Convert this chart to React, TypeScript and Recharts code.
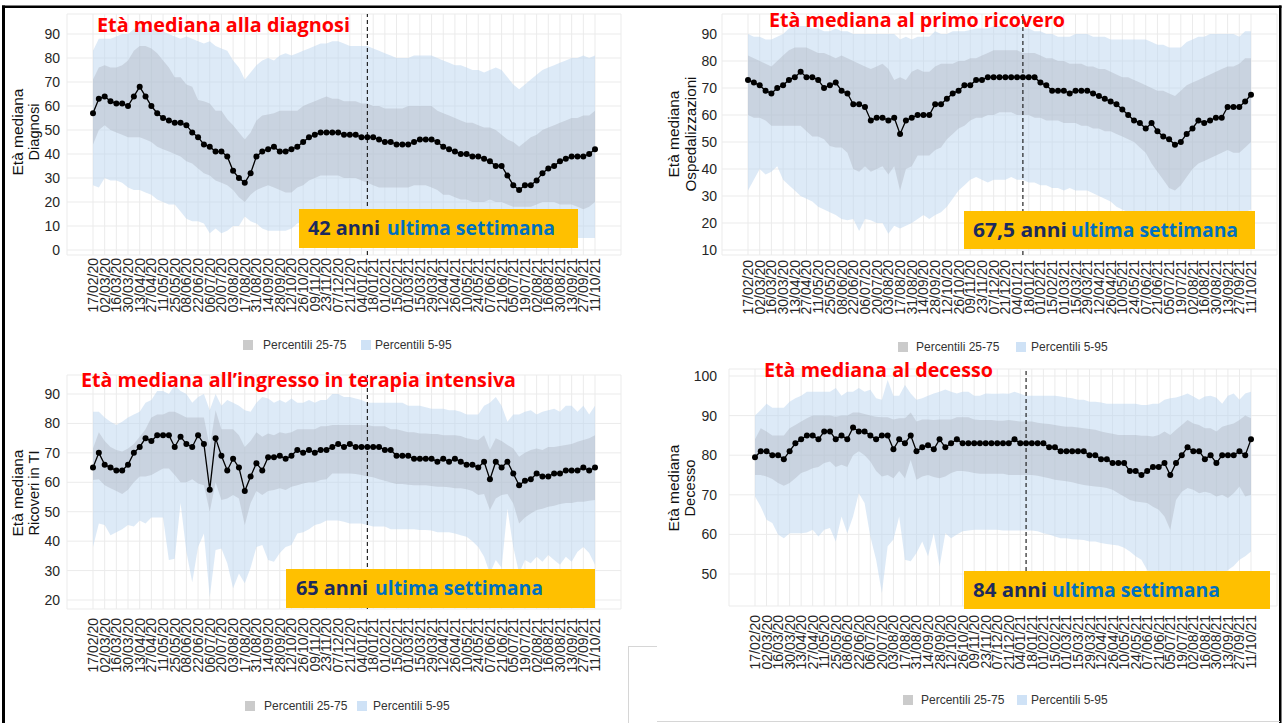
import React from 'react';
import { ComposedChart, Area, Line, XAxis, YAxis, CartesianGrid, ReferenceLine } from 'recharts';

// ---------- categories ----------
const DATES = [
  '17/02/20','24/02/20','02/03/20','09/03/20','16/03/20','23/03/20','30/03/20','06/04/20','13/04/20','20/04/20',
  '27/04/20','04/05/20','11/05/20','18/05/20','25/05/20','01/06/20','08/06/20','15/06/20','22/06/20','29/06/20',
  '06/07/20','13/07/20','20/07/20','27/07/20','03/08/20','10/08/20','17/08/20','24/08/20','31/08/20','07/09/20',
  '14/09/20','21/09/20','28/09/20','05/10/20','12/10/20','19/10/20','26/10/20','02/11/20','09/11/20','16/11/20',
  '23/11/20','30/11/20','07/12/20','14/12/20','21/12/20','28/12/20','04/01/21','11/01/21','18/01/21','25/01/21',
  '01/02/21','08/02/21','15/02/21','22/02/21','01/03/21','08/03/21','15/03/21','22/03/21','29/03/21','05/04/21',
  '12/04/21','19/04/21','26/04/21','03/05/21','10/05/21','17/05/21','24/05/21','31/05/21','07/06/21','14/06/21',
  '21/06/21','28/06/21','05/07/21','12/07/21','19/07/21','26/07/21','02/08/21','09/08/21','16/08/21','23/08/21',
  '30/08/21','06/09/21','13/09/21','20/09/21','27/09/21','04/10/21','11/10/21'
];
const TICK_IDX = [0,2,4,6,8,10,12,14,16,18,20,22,24,26,28,30,32,34,36,38,40,42,44,46,48,50,52,54,56,58,60,62,64,66,68,70,72,74,76,78,80,82,84,86];
const MARK_IDX = 47;

// ---------- Diagnosi ----------
const diagMed = [57,63,64,62,61,61,60,64,68,64, 60,57,55,54,53,53,52,49,47,44, 43,41,41,39,33,30,28,32,39,41,
  42,43,41,41,42,43,45,47,48,49, 49,49,49,48,48,48,47,47,47,46, 45,45,44,44,44,45,46,46,46,45,
  43,42,41,40,40,39,39,38,37,35, 35,31,27,25,27,27,29,32,34,35, 37,38,39,39,39,40,42];
const diagP95 = [83,88,88,88,89,90,90,92,93,92, 92,92,91,90,89,88,89,88,87,86, 87,85,84,83,79,76,71,74,77,79,
  80,79,81,82,81,82,83,84,85,86, 86,87,87,86,85,85,85,85,84,83, 82,81,80,80,80,81,81,81,81,80,
  79,78,77,77,76,75,75,74,75,76, 75,72,69,67,69,71,73,75,76,77, 78,79,80,80,81,80,81];
const diagP75 = [71,76,77,76,76,77,79,83,85,85, 84,82,79,76,72,72,69,68,62.5,62, 61,58,58,54.5,52,49,46,49,54,56,
  56.5,57,58,58,58,58,60,61,62,63, 64,63,63,62,62,62,61,61,60,60, 59,59,59,59,60,60,60,60,60,58,
  57,56,55,54,53,53,52,51,51,50, 48,46,45,43,45,47,48,50,51,52, 53,54,55,55,56,56,58];
const diagP25 = [44,50,52,50,49,48,47,47,47,46, 45,43,42,41,40,39,37,36,34,32, 31,29,28,27,25,22,20,23,25,26,
  27,26,25,24,24,26,27,29,30,31, 31,31,31,30,30,30,29,28,27,26, 26,26,26,26,26,27,27,27,26,25,
  23,23,22,21,21,20,20,20,21,20, 20,19,18,18,18,18,19,20,20,20, 19,19,19,18,17,18,20];
const diagP5 = [27,26,30,29,29,28,26,25,25,24, 23,21,20,19,19,16,13,12,12,11, 7,9,7,8,10,10,14,12,11,9,
  8,8,8,8,9,11,12,14,14,15, 15,15,14,14,13,13,12,12,11,11, 11,11,12,12,12,11,11,10,10,9,
  9,8,8,8,7,7,7,6,6,5, 4,3,3,3,4,5,5,6,6,6, 6,5,5,5,5,5,5];

// ---------- Ospedalizzazioni ----------
const hospMed = [73,72,71,69,68,70,71,73,74,76, 74,74,73,70,71,72,69,68,64,64, 63,58,59,59,58,59,53,58,59,60,
  60,60,64,64,66,68,69,71,71,73, 73,74,74,74,74,74,74,74,74,74, 72,71,69,69,69,68,69,69,69,68,
  67,66,65,64,62,60,58,57,55,57, 54,52,51,49,50,53,55,58,57,58, 59,59,63,63,63,65,67.5];
const hospP95 = [90,89,89,88,88,89,90,92,93,93, 93,92,92,91,91,92,91,91,90,90, 90,90,90,90,90,90,88,89,88,89,
  89,89,91,90,90,91,91,91,91.5,92, 92,92,93,93,93,93,93,92,92,91, 91,90,90,89,89,89,90,90,90,89,
  89,89,88,88,88,88,88,88,88,87, 86,86,85,85,85,87,88,89,89,90, 90,90,90,90,89,91,91];
const hospP75 = [82,81,80,79,78,80,82,84,85,85, 85,84,83,83,82,81,82,81,80,79, 78,77,78,79,77,73,74,73,76,77,
  76,76,78,79,79,79,80,80,81,81, 82,83,84,84,84,84,84,83,83,83, 82,81,81,80,80,79,79,79,78,78,
  77,77,76,75,74,74,73,72,71,70, 69,69,68,67,69,71,72,73,74,75, 76,77,78,78,79,81,81];
const hospP25 = [60,59,59,58,56,56,56,56,56,56, 54,52,52,51,48.5,48,48,46,40,39, 41,39,40,41,38,41,32,40,41,45,
  45,45,47,48,51,53,55,56,58,59, 59,60,60,61,61,61,60,60,60,59, 59,58,58,58,57,57,57,56,56,55,
  55,54,54,53,52,51,50,48,46,42, 39,36,33,32,34,37,40,42,43,44, 45,46,47,46,46,48,50];
const hospP5 = [32,36,40,38,39,41,36,34,32,30, 29,28,26,25,24,23,21.5,21,21.5,17, 21.5,21,20,20,16,19,18,19,20,21.5,
  23,21.5,23,24,26,29,32,34,36,37, 36,35,36,36,36,37,36,36,35,35, 34,34,33,33,32,33,32,32,32,31,
  30,29,28,26,25,24,23,22,20,18, 16,14,13,12,13,15,17,19,20,21, 21,22,22,23,23,24,25];

// ---------- Ricoveri in TI ----------
const icuMed = [65,70,66,65,64,64,66,70,72,75, 74,76,76,76,72,75.5,73,72,76,73, 57.5,75,69,64,68,65,57,62,66.5,64,
  68.5,68.5,69,68,69,71,70,71,70,71, 71,72,73,72,73,72,72,72,72,72, 71,71,69,69,69,68,68,68,68,67,
  68,67,68,67,66,66,65,67,61,67, 65,67,63,59,60.5,61,63,62,62,63, 63,64,64,64,65,64,65];
const icuP95 = [84,84,82,80.6,79.5,80.6,82,83,84,87, 88,91,91,90,93,91,90,87,89,90, 84.5,90,86,88,87,86,84.5,84,87,89,
  88.5,87,88,87,88.5,87,87,88,87,88, 88,90,90,89,89,88.5,88,87,87,87, 87,87,87,87,86,86,86,85.5,85,85,
  85,84.5,84.5,84,83,83,83,86,87,89, 86,80.6,83,83,84,84.5,83,84,84.5,85, 84,86,86,84,86,83,86];
const icuP75 = [71.5,77,74,72,71,70.5,71.5,73,75.5,78, 82,83,83,84,84,83,82,82,82,82, 72,84.5,78,78,78,76,72,74,77,75.5,
  76.6,76,77,76.6,77,78,78,78,78,79, 79,79.5,79.5,79.5,79.5,79.5,79.5,79.5,79,79, 79,78,78,77.5,77,77,76.6,76.6,76.4,76.4,
  76,76,76,75.7,75,74.6,74.4,76,71,75, 74,72.7,71.5,68.7,70,71,71.5,71,72,72, 72.3,72.7,73,73.8,74.4,75,76];
const icuP25 = [60.8,61,59,58,57,56,57.5,60,62,62, 62.5,63.6,64.7,64.7,62.5,60,60,61,59.6,59, 50,60,54,54.5,55.7,54.5,45.5,53,57,55.7,
  57,57.4,58,57.4,58.5,59,59.6,60,60,60.8, 61,63,63,63,63,62.8,62.5,62,61.7,61, 60.5,59.9,59.4,59.4,59.2,59,59,59,58.7,58.5,
  58.5,58.3,58,58,57.6,57,55.7,56,50.6,54.5, 55.7,56,52.8,46,48,49.4,50.6,51,51.7,52, 52.6,53,53,53.4,53.4,53.7,54];
const icuP5 = [38,46,45.5,42,43,44,45.5,45,47,46, 48,48,48,33.6,34,53,36.4,26,38,42.6, 21,37,37.5,32.5,24,29,25.7,31,38,38.7,
  33.6,33,36,38,38.7,42.6,43,44,45.5,46, 47,47,47,46.6,46,46,46,45.5,45,45, 45,44,44,44,44,44,43.8,43.8,43.6,43,
  43,43,42.6,42,41.5,40,38,34.7,29,33.6, 31,51,38,29,33.6,32.5,34.7,33,35.3,33.6, 32,34.7,33,36.4,38,36,32];

// ---------- Decesso ----------
const deathMed = [79.5,81,81,80,80,79,81,83,84,85, 85,84,86,86,84,85,84,87,86,86, 85,84,85,85,81.5,84,83,85,81,82,
  82.5,81.5,84,82,83,84,83,83,83,83, 83,83,83,83,83,84,83,83,83,83, 83,82,82,81,81,81,81,81,80,80,
  79,79,78,78,78,76,76,75,76,77, 77,78,75,78,80,82,81,81,79,80, 78,80,80,80,81,80,84];
const deathP95 = [90,91.4,93,92,92,92,93.5,94.4,95,96, 96,96,96,96,97,95,96,96,97,96, 96.5,94.4,94,99,95,95,97.7,95.6,94,94.4,
  95,95.6,96,96.6,96,95.6,96,96,95,95, 95.6,95.5,95.5,95.6,95.5,96,95.5,95,95,95, 95,95,95,94.8,94.6,94.4,94,94,93.5,93.5,
  93.3,93,93,93,93,93,93,92.7,92.7,93, 93,94,94.4,94.6,95,95.6,94.8,94,94.8,95, 94.5,93,95,95.6,94,95.6,96];
const deathP75 = [84,86.8,86,85,85,85,86.8,87.6,88.5,89.3, 90,90,90,90,89.7,90,90,90.8,90.8,90.4, 90,89.7,89.6,89.6,89,89.3,89.3,90.8,88.5,89,
  89,88.9,89,89,89,89.6,89.6,89.6,89,88.9, 88.9,88.9,88.7,88.7,88.9,88.7,88.5,88.5,88.5,88.2, 88,87.9,87.6,87.4,87.2,87.2,87,86.8,86.6,86.4,
  86,85.7,85.4,85.1,85.1,85.1,85.1,84.9,84.9,84.7, 85.1,86,85.1,86.4,87.6,88.9,88,87.6,86.8,86.8, 86,87.2,87.6,88,88.9,90,89.3];
const deathP25 = [75,75,74.6,74,73,72.3,73,74.2,75.5,76, 76.7,77,78,78.4,77,77.6,77,80,81,80, 78.4,76,74.6,75,74.2,76,74.2,78.8,73.8,74.6,
  75,74.5,74.2,74.6,75.5,76,76,75.8,75.5,75.3, 75.3,75.3,75.3,75.3,75,75,75,75,75,74.8, 74.5,74.2,73.8,73.6,73.4,73.2,72.8,72.5,72.3,72.1,
  72,71.7,71.3,70.4,69.6,68.7,68.3,68.1,67.9,67, 66.2,64.5,61.2,68.7,70.8,71.7,71.3,70.4,70.8,70.4, 69.6,70,69.2,70.4,72.1,69.6,70];
const deathP5 = [69.6,67,63.7,62.9,60,59,60.3,60.3,60.3,60.5, 61.2,59.5,61.2,61.6,58.2,64.5,60.3,64.5,70.4,67.9, 59.5,53.6,45.2,57,58.7,64.5,53.6,53.2,55.3,58.2,
  54.5,60.3,51.9,60.3,59,60,60.8,61,61.2,61.2, 61.2,61.2,61.2,61,61,61,61,61,61,60.8, 60.3,60,59.5,59,59,58.8,58.7,58.6,58.2,58.2,
  57.8,57.6,57.4,57.2,56.6,55.7,54.5,53.6,51,50, 49,48,45,47,49,50,49,48,50,49, 48,50,51,52,53.6,54.5,55.7];

const Y_TICKS_DIAG = [0,10,20,30,40,50,60,70,80,90];
const Y_TICKS_HOSP = [10,20,30,40,50,60,70,80,90];
const Y_TICKS_ICU = [20,30,40,50,60,70,80,90];
const Y_TICKS_DEATH = [50,60,70,80,90,100];

// ---------- helpers ----------
function buildRows(p5: number[], p25: number[], med: number[], p75: number[], p95: number[]) {
  return DATES.map((d, i) => ({ i, date: d, outer: [p5[i], p95[i]], inner: [p25[i], p75[i]], med: med[i] }));
}

type Cfg = {
  xFirst: number; xLast: number; a: number; yA: number; b: number; yB: number;
  top: number; bottom: number; labelTop: number; yTicks: number[]; yGap: number;
};

const TICK_FONT = 'Liberation Sans, Arial, sans-serif';

const renderXTick = (props: any) => {
  const { x, y, payload } = props;
  return (
    <text x={x} y={y} transform={`rotate(-90 ${x} ${y})`} textAnchor="end" dominantBaseline="central"
      fontSize={14} fill="#262626" fontFamily={TICK_FONT}>
      {DATES[payload.value]}
    </text>
  );
};

function Panel({ cfg, rows }: { cfg: Cfg; rows: any[] }) {
  const ppu = (cfg.xLast - cfg.xFirst) / 86;
  const plotLeft = Math.round(cfg.xFirst - 4.5 * ppu);
  const plotRight = Math.round(cfg.xLast + 4.5 * ppu);
  const xDom = [(plotLeft - cfg.xFirst) / ppu, (plotRight - cfg.xFirst) / ppu];
  const pxPerVal = (cfg.yB - cfg.yA) / (cfg.b - cfg.a);
  const yTopVal = cfg.a + (cfg.top - cfg.yA) / pxPerVal;
  const yBotVal = cfg.a + (cfg.bottom - cfg.yA) / pxPerVal;
  const YW = 60, MT = 10, MR = 10, XH = 80;
  const width = plotRight - plotLeft + YW + MR;
  const height = cfg.bottom - cfg.top + MT + XH;
  return (
    <div style={{ position: 'absolute', left: plotLeft - YW, top: cfg.top - MT, width, height }}>
      <ComposedChart width={width} height={height} data={rows} margin={{ top: MT, right: MR, bottom: 0, left: 0 }}>
        <CartesianGrid stroke="#ebebeb" strokeWidth={1} />
        <XAxis type="number" dataKey="i" domain={xDom} ticks={TICK_IDX} interval={0} allowDataOverflow
          axisLine={false} tickLine={false} tickSize={0} tickMargin={cfg.labelTop - cfg.bottom} height={XH}
          tick={renderXTick} />
        <YAxis type="number" domain={[yBotVal, yTopVal]} ticks={cfg.yTicks} interval={0} allowDataOverflow
          axisLine={false} tickLine={false} width={YW} tickSize={0} tickMargin={cfg.yGap}
          tick={{ fontSize: 14, fill: '#262626', fontFamily: TICK_FONT }} />
        <Area type="linear" dataKey="outer" stroke="none" fill="#bcd6f0" fillOpacity={0.5}
          isAnimationActive={false} dot={false} activeDot={false} />
        <Area type="linear" dataKey="inner" stroke="none" fill="#a7adb8" fillOpacity={0.36}
          isAnimationActive={false} dot={false} activeDot={false} />
        <ReferenceLine x={MARK_IDX} stroke="#111" strokeWidth={1.1} strokeDasharray="4 3" />
        <Line type="linear" dataKey="med" stroke="#000" strokeWidth={1.3}
          dot={{ r: 3, fill: '#000', stroke: '#000', strokeWidth: 0 }} activeDot={false} isAnimationActive={false} />
      </ComposedChart>
    </div>
  );
}

const CFG_DIAG: Cfg = { xFirst: 93, xLast: 595, a: 0, yA: 250, b: 90, yB: 34, top: 14, bottom: 255, labelTop: 258, yTicks: Y_TICKS_DIAG, yGap: 7 };
const CFG_HOSP: Cfg = { xFirst: 748, xLast: 1251, a: 10, yA: 250, b: 90, yB: 34, top: 14, bottom: 255, labelTop: 260, yTicks: Y_TICKS_HOSP, yGap: 5 };
const CFG_ICU: Cfg = { xFirst: 93, xLast: 595, a: 20, yA: 600, b: 90, yB: 394, top: 375, bottom: 609, labelTop: 618, yTicks: Y_TICKS_ICU, yGap: 7 };
const CFG_DEATH: Cfg = { xFirst: 755, xLast: 1251, a: 50, yA: 574, b: 100, yB: 376, top: 369, bottom: 606, labelTop: 615, yTicks: Y_TICKS_DEATH, yGap: 12 };

const TITLE_FONT = '"Open Sans", "Noto Sans", sans-serif';

function Title({ x, y, len, text }: { x: number; y: number; len: number; text: string }) {
  return (
    <text x={x} y={y} textLength={len} lengthAdjust="spacingAndGlyphs" fontFamily={TITLE_FONT}
      fontWeight={700} fontSize={19} fill="#ff0000">{text}</text>
  );
}

function Badge({ bx, by, bw, bh, tx, ty, num, numLen, restX, restLen }:
  { bx: number; by: number; bw: number; bh: number; tx: number; ty: number; num: string; numLen: number; restX: number; restLen: number }) {
  return (
    <g>
      <rect x={bx} y={by} width={bw} height={bh} fill="#ffc000" />
      <text x={tx} y={ty} textLength={numLen} lengthAdjust="spacingAndGlyphs" fontFamily={TITLE_FONT}
        fontWeight={700} fontSize={19} fill="#1b2a5e">{num}</text>
      <text x={restX} y={ty} textLength={restLen} lengthAdjust="spacingAndGlyphs" fontFamily={TITLE_FONT}
        fontWeight={700} fontSize={19} fill="#0070c0">ultima settimana</text>
    </g>
  );
}

function YTitle({ cx1, cx2, cy, l1, l2, len1, len2 }:
  { cx1: number; cx2: number; cy: number; l1: string; l2: string; len1: number; len2: number }) {
  return (
    <g fontFamily={TICK_FONT} fontSize={15} fill="#111">
      <text transform={`translate(${cx1},${cy}) rotate(-90)`} textAnchor="middle" dominantBaseline="central"
        textLength={len1} lengthAdjust="spacingAndGlyphs">{l1}</text>
      <text transform={`translate(${cx2},${cy}) rotate(-90)`} textAnchor="middle" dominantBaseline="central"
        textLength={len2} lengthAdjust="spacingAndGlyphs">{l2}</text>
    </g>
  );
}

function LegendBox({ y, sq1, t1, sq2, t2 }: { y: number; sq1: number; t1: number; sq2: number; t2: number }) {
  return (
    <g fontFamily={TICK_FONT} fontSize={12} fill="#333">
      <rect x={sq1} y={y - 5} width={10} height={10} fill="#cbcbcb" />
      <text x={t1} y={y} dominantBaseline="central">Percentili 25-75</text>
      <rect x={sq2} y={y - 5} width={10} height={10} fill="#cfe2f6" />
      <text x={t2} y={y} dominantBaseline="central">Percentili 5-95</text>
    </g>
  );
}

export default function App() {
  const diagRows = buildRows(diagP5, diagP25, diagMed, diagP75, diagP95);
  const hospRows = buildRows(hospP5, hospP25, hospMed, hospP75, hospP95);
  const icuRows = buildRows(icuP5, icuP25, icuMed, icuP75, icuP95);
  const deathRows = buildRows(deathP5, deathP25, deathMed, deathP75, deathP95);
  return (
    <div style={{ position: 'absolute', left: 0, top: 0, width: 1282, height: 723, background: '#fff', overflow: 'hidden' }}>
      <Panel cfg={CFG_DIAG} rows={diagRows} />
      <Panel cfg={CFG_HOSP} rows={hospRows} />
      <Panel cfg={CFG_ICU} rows={icuRows} />
      <Panel cfg={CFG_DEATH} rows={deathRows} />
      <svg width={1282} height={723} style={{ position: 'absolute', left: 0, top: 0, pointerEvents: 'none' }}>
        {/* frame */}
        <rect x={2} y={5.5} width={1279.5} height={2.5} fill="#000" />
        <rect x={2} y={5.5} width={3} height={718} fill="#000" />
        <rect x={1279} y={5.5} width={2.5} height={718} fill="#000" />
        <line x1={628.5} y1={647} x2={628.5} y2={723} stroke="#d6d6d6" strokeWidth={1} />
        <line x1={628} y1={646.5} x2={657} y2={646.5} stroke="#d6d6d6" strokeWidth={1} />
        <line x1={657} y1={721.5} x2={1280} y2={721.5} stroke="#d6d6d6" strokeWidth={1} />

        <Title x={97} y={32} len={253} text="Età mediana alla diagnosi" />
        <Title x={769} y={27} len={296} text="Età mediana al primo ricovero" />
        <Title x={81} y={387} len={435} text="Età mediana all’ingresso in terapia intensiva" />
        <Title x={764} y={377} len={229} text="Età mediana al decesso" />

        <Badge bx={299} by={209} bw={279} bh={39} tx={308} ty={235} num="42 anni" numLen={72} restX={387} restLen={168} />
        <Badge bx={964} by={211} bw={291} bh={38} tx={973} ty={237} num="67,5 anni" numLen={94} restX={1071} restLen={167} />
        <Badge bx={286} by={569} bw={309} bh={39} tx={296} ty={595} num="65 anni" numLen={72} restX={375} restLen={168} />
        <Badge bx={964} by={571} bw={306} bh={38} tx={973} ty={597} num="84 anni" numLen={74} restX={1052} restLen={168} />

        <YTitle cx1={17} cx2={33} cy={132} l1="Età mediana" l2="Diagnosi" len1={87} len2={57} />
        <YTitle cx1={673} cx2={690} cy={134} l1="Età mediana" l2="Ospedalizzazioni" len1={87} len2={115} />
        <YTitle cx1={17} cx2={33} cy={493} l1="Età mediana" l2="Ricoveri in TI" len1={87} len2={85} />
        <YTitle cx1={673} cx2={689} cy={488} l1="Età mediana" l2="Decesso" len1={87} len2={57} />

        <LegendBox y={345} sq1={243} t1={263} sq2={361} t2={375} />
        <LegendBox y={347} sq1={898} t1={916} sq2={1016} t2={1031} />
        <LegendBox y={706} sq1={245} t1={264} sq2={357} t2={373} />
        <LegendBox y={700} sq1={903} t1={921} sq2={1017} t2={1031} />
      </svg>
    </div>
  );
}
